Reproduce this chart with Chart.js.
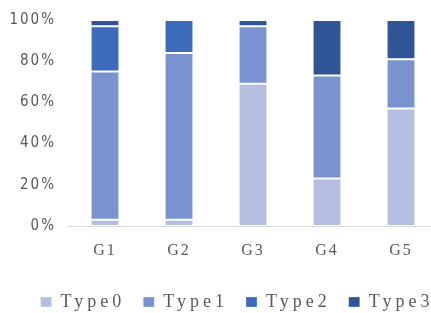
<!DOCTYPE html>
<html>
<head>
<meta charset="utf-8">
<script src="https://cdn.jsdelivr.net/npm/chart.js@4/dist/chart.umd.min.js"></script>
<style>
  html, body { margin: 0; padding: 0; background: #fff; overflow: hidden; }
  #wrap { position: relative; width: 438px; height: 313px; }
</style>
</head>
<body>
<div id="wrap"><canvas id="chart"></canvas></div>
<script>
const groups = ['G1', 'G2', 'G3', 'G4', 'G5'];
const typeNames = ['Type0', 'Type1', 'Type2', 'Type3'];

// percent shares per group
const type0 = [3, 3, 69, 23, 57];
const type1 = [72, 81, 28, 50, 24];
const type2 = [22, 16, 0, 0, 0];
const type3 = [3, 0, 3, 27, 19];

const yTicks = [0, 20, 40, 60, 80, 100];

const colors = ['#b4bee0', '#7a92d0', '#3d6abb', '#2f5597'];
const series = [type0, type1, type2, type3];

const textSpacing = '2px';
const legendSpacing = '4px';

// canvas letterSpacing is reset whenever the canvas is resized, so set it each pass
const spacingPlugin = {
  id: 'spacing',
  beforeLayout: (chart) => {
    chart.ctx.letterSpacing = textSpacing;
    const legend = chart.legend;
    if (legend && !legend._patched) {
      const fit = legend.fit;
      const draw = legend.draw;
      legend.fit = function () {
        const ctx = this.ctx;
        const old = ctx.letterSpacing;
        const maxW = this.maxWidth;
        ctx.letterSpacing = legendSpacing;
        // keep the four items on one row, like the original
        this.maxWidth = 1000;
        const r = fit.apply(this, arguments);
        this.maxWidth = maxW;
        this.width = maxW;
        ctx.letterSpacing = old;
        return r;
      };
      legend.draw = function () {
        const ctx = this.ctx;
        ctx.save();
        ctx.letterSpacing = legendSpacing;
        ctx.translate(18, 8);
        const r = draw.apply(this, arguments);
        ctx.restore();
        return r;
      };
      legend._patched = true;
    }
  },
  beforeDraw: (chart) => {
    chart.ctx.letterSpacing = textSpacing;
  },
};

const datasets = series.map((values, i) => {
  return {
    label: typeNames[i],
    data: values,
    backgroundColor: colors[i],
    borderColor: 'rgba(255,255,255,0.25)',
    borderWidth: 1,
    borderSkipped: false,
    barPercentage: 0.39,
    categoryPercentage: 1,
  };
});

new Chart(document.getElementById('chart'), {
  type: 'bar',
  plugins: [spacingPlugin],
  data: {
    labels: groups,
    datasets: datasets,
  },
  options: {
    responsive: true,
    maintainAspectRatio: false,
    animation: false,
    devicePixelRatio: 1,
    layout: {
      padding: { top: 20, left: 0, right: 0, bottom: 0 },
    },
    scales: {
      x: {
        stacked: true,
        grid: { display: false, drawTicks: false },
        border: { display: true, color: '#d9d9d9', width: 1 },
        ticks: {
          padding: 15,
          maxRotation: 0,
          minRotation: 0,
          color: '#595959',
          font: { family: 'Liberation Serif', size: 16 },
        },
        afterFit: (axis) => {
          axis.height = 41;
        },
      },
      y: {
        stacked: true,
        min: 0,
        max: 100,
        afterBuildTicks: (axis) => {
          axis.ticks = yTicks.map((v) => ({ value: v }));
        },
        grid: { display: false, drawTicks: false },
        border: { display: false },
        ticks: {
          padding: 12,
          color: '#595959',
          font: { family: "'Liberation Sans Narrow', 'DejaVu Sans Condensed', sans-serif", size: 15 },
          callback: (value) => value + '%',
        },
        afterFit: (axis) => {
          axis.width = 68;
          axis.paddingTop = 0;
          axis.paddingBottom = 0;
        },
      },
    },
    plugins: {
      tooltip: { enabled: false },
      legend: {
        position: 'bottom',
        labels: {
          boxWidth: 11,
          boxHeight: 10,
          padding: 18,
          color: '#595959',
          font: { family: 'Liberation Serif', size: 18 },
        },
      },
    },
  },
});
</script>
</body>
</html>
